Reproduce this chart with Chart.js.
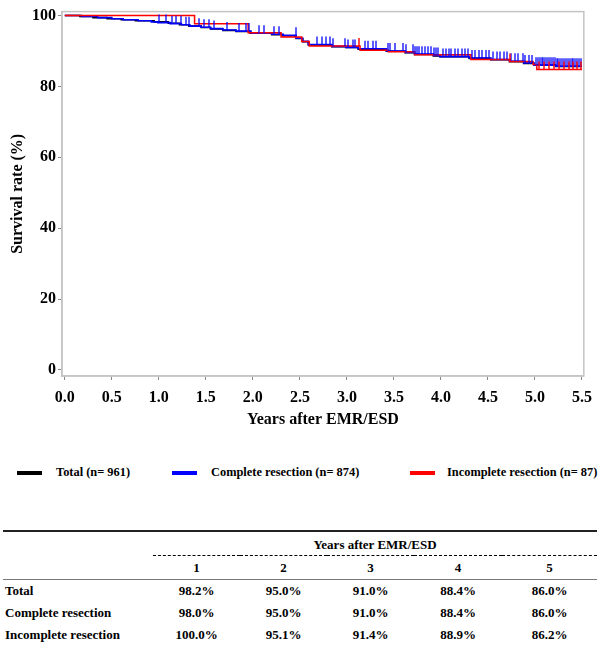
<!DOCTYPE html>
<html>
<head>
<meta charset="utf-8">
<script src="https://cdn.jsdelivr.net/npm/chart.js@4.4.1/dist/chart.umd.min.js"></script>
<style>
  html, body { margin: 0; padding: 0; background: #fff; }
  body { width: 600px; height: 645px; position: relative; overflow: hidden; font-family: "Liberation Serif", "Times New Roman", serif; font-weight: bold; color: #000; }
  #wrap { position: absolute; left: 0; top: 0; width: 600px; height: 430px; }
  .leg { position: absolute; top: 465px; font-size: 12.4px; line-height: 15px; white-space: nowrap; }
  .sw { position: absolute; top: 471px; width: 25px; height: 4px; }
  table { position: absolute; left: 3px; top: 530px; width: 594px; border-collapse: collapse; font-size: 13px; table-layout: fixed; }
  td { padding: 0; text-align: center; white-space: nowrap; }
  td.lab { text-align: left; padding-left: 2px; }
  tr.r0 td { height: 21px; vertical-align: bottom; padding-bottom: 2px; }
  tr.r1 td { height: 23px; }
  tr.rd td { height: 22px; }
  .tt { border-top: 2px solid #222; }
  .bb { border-bottom: 2px solid #222; }
  .dash { border-bottom: 1px dashed #000; }
  .thin { border-bottom: 1px solid #777; }
</style>
</head>
<body>
<div id="wrap"><canvas id="c" width="600" height="430"></canvas></div>
<div id="legend"></div>
<table id="tbl"></table>
<script>
// ---------- data ----------
const xTicks = [0, 0.5, 1, 1.5, 2, 2.5, 3, 3.5, 4, 4.5, 5, 5.5];
const yTicks = [0, 20, 40, 60, 80, 100];

const seriesNames = ["Total (n= 961)", "Complete resection (n= 874)", "Incomplete resection (n= 87)"];
const seriesColors = ["#000000", "#0000ff", "#ff0000"];

const totalTimes = [0, 0.16, 0.3, 0.45, 0.6, 0.75, 0.95, 1.1, 1.22, 1.32, 1.45, 1.55, 1.68, 1.82, 1.97, 2.2, 2.32, 2.46, 2.53, 2.59, 2.84, 2.99, 3.12, 3.42, 3.62, 3.72, 3.92, 3.99, 4.3, 4.53, 4.73, 4.88, 4.99, 5.22, 5.5];
const totalSurv  = [100, 99.7, 99.4, 99.1, 98.8, 98.5, 98.2, 97.8, 97.4, 97.0, 96.6, 96.2, 95.8, 95.5, 95.0, 94.6, 94.3, 93.5, 92.6, 91.7, 91.2, 91.0, 90.5, 89.9, 89.5, 89.0, 88.6, 88.4, 87.9, 87.5, 87.0, 86.5, 86.0, 85.6, 85.6];

const completeTimes = [0, 0.18, 0.35, 0.5, 0.62, 0.78, 0.92, 0.99, 1.12, 1.24, 1.33, 1.45, 1.55, 1.68, 1.82, 1.98, 2.2, 2.32, 2.46, 2.53, 2.59, 2.84, 2.99, 3.12, 3.42, 3.62, 3.72, 3.92, 3.99, 4.3, 4.53, 4.73, 4.88, 4.99, 5.22, 5.5];
const completeSurv  = [100, 99.7, 99.4, 99.1, 98.8, 98.5, 98.2, 98.0, 97.7, 97.4, 97.0, 96.7, 96.3, 95.9, 95.6, 95.0, 94.7, 94.4, 93.6, 92.7, 91.8, 91.3, 91.0, 90.6, 90.0, 89.6, 89.1, 88.7, 88.4, 88.0, 87.6, 87.1, 86.6, 86.0, 85.7, 85.7];

const incompleteTimes = [0, 1.38, 1.95, 2.3, 2.52, 2.6, 3.14, 3.44, 3.72, 4.32, 4.73, 4.98, 5.02, 5.5];
const incompleteSurv  = [100, 97.7, 95.1, 93.9, 92.7, 91.4, 90.2, 89.8, 88.9, 87.6, 87.0, 86.2, 84.8, 84.8];

const completeCensored = [1.005, 1.079, 1.143, 1.185, 1.238, 1.291, 1.323, 1.429, 1.481, 1.534, 1.587, 1.725, 1.852, 1.926, 1.958, 2.063, 2.116, 2.222, 2.275, 2.455, 2.677, 2.73, 2.783, 2.825, 2.857, 2.984, 3.016, 3.069, 3.09, 3.196, 3.228, 3.28, 3.312, 3.439, 3.46, 3.513, 3.598, 3.63, 3.704, 3.725, 3.746, 3.767, 3.799, 3.831, 3.862, 3.894, 3.926, 3.947, 3.968, 4.021, 4.053, 4.085, 4.106, 4.148, 4.18, 4.222, 4.254, 4.286, 4.328, 4.36, 4.402, 4.434, 4.476, 4.508, 4.55, 4.593, 4.624, 4.667, 4.698, 4.741, 4.783, 4.825, 4.868, 4.899, 4.942, 4.974, 5.01, 5.03, 5.05, 5.07, 5.09, 5.11, 5.13, 5.15, 5.17, 5.19, 5.21, 5.23, 5.25, 5.27, 5.29, 5.31, 5.33, 5.35, 5.37, 5.39, 5.41, 5.43, 5.45, 5.47, 5.49];
const incompleteCensored = [3.13, 4.73, 5.04, 5.1, 5.15, 5.2, 5.26, 5.31, 5.36, 5.41, 5.45, 5.49];

const tableYears = ["1", "2", "3", "4", "5"];
const tableRows = ["Total", "Complete resection", "Incomplete resection"];
const tableTotal = ["98.2%", "95.0%", "91.0%", "88.4%", "86.0%"];
const tableComplete = ["98.0%", "95.0%", "91.0%", "88.4%", "86.0%"];
const tableIncomplete = ["100.0%", "95.1%", "91.4%", "88.9%", "86.2%"];

// ---------- helpers ----------
function toPoints(ts, ss) { return ts.map((t, i) => ({ x: t, y: ss[i] })); }
function survAt(ts, ss, t) {
  let v = ss[0];
  for (let i = 0; i < ts.length; i++) { if (ts[i] <= t) v = ss[i]; else break; }
  return v;
}

const censorSets = [
  { times: completeCensored, ts: completeTimes, ss: completeSurv, color: "rgba(0,0,255,0.85)" },
  { times: incompleteCensored, ts: incompleteTimes, ss: incompleteSurv, color: "rgba(255,0,0,0.95)" }
];

const censorPlugin = {
  id: "censor",
  afterDatasetsDraw(chart) {
    const { ctx, scales: { x, y } } = chart;
    ctx.save();
    ctx.lineWidth = 1.5;
    censorSets.forEach(set => {
      ctx.strokeStyle = set.color;
      set.times.forEach(t => {
        const px = Math.round(x.getPixelForValue(t));
        const py = y.getPixelForValue(survAt(set.ts, set.ss, t));
        ctx.beginPath();
        ctx.moveTo(px, py);
        ctx.lineTo(px, py - 8);
        ctx.stroke();
      });
    });
    ctx.restore();
  }
};

const boxPlugin = {
  id: "box",
  afterDraw(chart) {
    const { ctx, chartArea: a } = chart;
    ctx.save();
    ctx.strokeStyle = "#c4c4c4";
    ctx.lineWidth = 1.5;
    ctx.strokeRect(a.left, a.top, a.right - a.left, a.bottom - a.top);
    ctx.restore();
  }
};

const tickFont = { family: "'Liberation Serif', serif", size: 16, weight: "bold" };

new Chart(document.getElementById("c"), {
  type: "line",
  data: {
    datasets: [
      { label: seriesNames[0], data: toPoints(totalTimes, totalSurv), borderColor: seriesColors[0], borderWidth: 1.6, stepped: true, pointRadius: 0, fill: false, order: 3 },
      { label: seriesNames[1], data: toPoints(completeTimes, completeSurv), borderColor: seriesColors[1], borderWidth: 1.6, stepped: true, pointRadius: 0, fill: false, order: 2 },
      { label: seriesNames[2], data: toPoints(incompleteTimes, incompleteSurv), borderColor: seriesColors[2], borderWidth: 1.5, stepped: true, pointRadius: 0, fill: false, order: 1 }
    ]
  },
  options: {
    responsive: false,
    animation: false,
    layout: { padding: { top: 6, right: 13, left: 0, bottom: 0 } },
    plugins: { legend: { display: false }, tooltip: { enabled: false } },
    scales: {
      x: {
        type: "linear", min: -0.03, max: 5.52,
        afterBuildTicks: s => { s.ticks = xTicks.map(v => ({ value: v })); },
        afterFit: s => { s.height = 54; },
        ticks: { font: tickFont, color: "#000", padding: 8, maxRotation: 0, autoSkip: false, callback: v => Number(v).toFixed(1) },
        grid: { drawOnChartArea: false, drawTicks: true, tickLength: 4, color: "#888" },
        border: { display: true, color: "#c4c4c4", width: 1.5 },
        title: { display: true, text: "Years after EMR/ESD", color: "#000", font: { family: "'Liberation Serif', serif", size: 16, weight: "bold" }, padding: { top: 0, bottom: 1 } }
      },
      y: {
        type: "linear", min: -1.7, max: 101.1,
        afterBuildTicks: s => { s.ticks = yTicks.map(v => ({ value: v })); },
        afterFit: s => { s.width = 62; },
        ticks: { font: tickFont, color: "#000", padding: 2, autoSkip: false },
        grid: { drawOnChartArea: false, drawTicks: true, tickLength: 4, color: "#888" },
        border: { display: true, color: "#c4c4c4", width: 1.5 },
        title: { display: true, text: "Survival rate (%)", color: "#000", font: { family: "'Liberation Serif', serif", size: 16, weight: "bold" }, padding: { top: 8, bottom: 0 } }
      }
    }
  },
  plugins: [censorPlugin, boxPlugin]
});

// ---------- legend ----------
const legendPos = [{ sw: 17, tx: 56 }, { sw: 172, tx: 211 }, { sw: 410, tx: 447 }];
const legend = document.getElementById("legend");
seriesNames.forEach((n, i) => {
  const sw = document.createElement("div");
  sw.className = "sw";
  sw.style.left = legendPos[i].sw + "px";
  sw.style.background = seriesColors[i];
  legend.appendChild(sw);
  const tx = document.createElement("div");
  tx.className = "leg";
  tx.style.left = legendPos[i].tx + "px";
  tx.textContent = n;
  legend.appendChild(tx);
});

// ---------- table ----------
const tbl = document.getElementById("tbl");
const colW = [150, 87, 87, 87, 88, 95];
let html = "<colgroup>" + colW.map(w => `<col style="width:${w}px">`).join("") + "</colgroup>";
html += `<tr class="r0"><td class="tt"></td><td class="tt dash" colspan="5">Years after EMR/ESD</td></tr>`;
html += `<tr class="r1"><td class="thin"></td>` + tableYears.map(y => `<td class="thin">${y}</td>`).join("") + `</tr>`;
const vals = [tableTotal, tableComplete, tableIncomplete];
tableRows.forEach((r, i) => {
  const last = i === tableRows.length - 1 ? " bb" : "";
  html += `<tr class="rd"><td class="lab${last}">${r}</td>` + vals[i].map(v => `<td class="${last}">${v}</td>`).join("") + `</tr>`;
});
tbl.innerHTML = html;
</script>
</body>
</html>
